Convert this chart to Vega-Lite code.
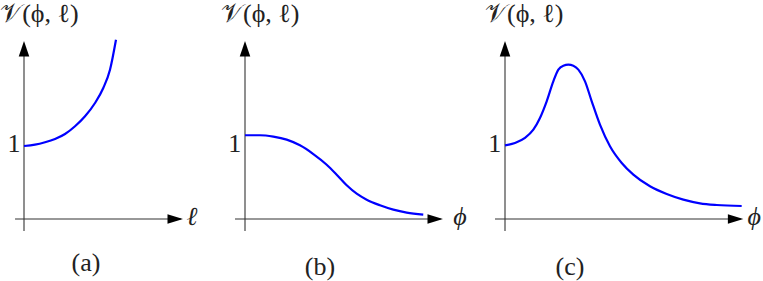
{
  "$schema": "https://vega.github.io/schema/vega-lite/v6.json",
  "background": "white",
  "padding": 0,
  "spacing": 0,
  "bounds": "flush",
  "config": {"view": {"stroke": null}, "text": {"font": "Liberation Serif", "fontSize": 26, "color": "#222222", "align": "center", "baseline": "alphabetic"}},
  "resolve": {"scale": {"x": "independent", "y": "independent"}},
  "datasets": {
    "axes": [
      {"panel": "a", "x": -0.123, "y": 0, "x2": 2.15, "y2": 0},
      {"panel": "a", "x": 0, "y": -0.164, "x2": 0, "y2": 2.4},
      {"panel": "b", "x": -0.137, "y": 0, "x2": 2.68, "y2": 0},
      {"panel": "b", "x": 0, "y": -0.164, "x2": 0, "y2": 2.4},
      {"panel": "c", "x": -0.137, "y": 0, "x2": 3.23, "y2": 0},
      {"panel": "c", "x": 0, "y": -0.164, "x2": 0, "y2": 2.4}
    ],
    "arrows": [
      {"panel": "a", "dir": "right", "x": 2.178, "y": 0},
      {"panel": "a", "dir": "up", "x": 0, "y": 2.438},
      {"panel": "b", "dir": "right", "x": 2.712, "y": 0},
      {"panel": "b", "dir": "up", "x": 0, "y": 2.438},
      {"panel": "c", "dir": "right", "x": 3.265, "y": 0},
      {"panel": "c", "dir": "up", "x": 0, "y": 2.438}
    ],
    "curves": [
      {"panel": "a", "x": 0, "y": 1.0},
      {"panel": "a", "x": 0.151, "y": 1.018},
      {"panel": "a", "x": 0.288, "y": 1.051},
      {"panel": "a", "x": 0.425, "y": 1.096},
      {"panel": "a", "x": 0.562, "y": 1.164},
      {"panel": "a", "x": 0.699, "y": 1.27},
      {"panel": "a", "x": 0.836, "y": 1.407},
      {"panel": "a", "x": 0.973, "y": 1.589},
      {"panel": "a", "x": 1.086, "y": 1.795},
      {"panel": "a", "x": 1.178, "y": 2.045},
      {"panel": "a", "x": 1.26, "y": 2.456},
      {"panel": "b", "x": 0, "y": 1.147},
      {"panel": "b", "x": 0.205, "y": 1.147},
      {"panel": "b", "x": 0.388, "y": 1.128},
      {"panel": "b", "x": 0.571, "y": 1.087},
      {"panel": "b", "x": 0.753, "y": 1.009},
      {"panel": "b", "x": 0.936, "y": 0.89},
      {"panel": "b", "x": 1.119, "y": 0.744},
      {"panel": "b", "x": 1.256, "y": 0.607},
      {"panel": "b", "x": 1.393, "y": 0.462},
      {"panel": "b", "x": 1.53, "y": 0.347},
      {"panel": "b", "x": 1.667, "y": 0.265},
      {"panel": "b", "x": 1.849, "y": 0.188},
      {"panel": "b", "x": 2.032, "y": 0.128},
      {"panel": "b", "x": 2.215, "y": 0.087},
      {"panel": "b", "x": 2.442, "y": 0.059},
      {"panel": "c", "x": 0, "y": 1.009},
      {"panel": "c", "x": 0.137, "y": 1.041},
      {"panel": "c", "x": 0.274, "y": 1.11},
      {"panel": "c", "x": 0.388, "y": 1.223},
      {"panel": "c", "x": 0.479, "y": 1.384},
      {"panel": "c", "x": 0.571, "y": 1.612},
      {"panel": "c", "x": 0.662, "y": 1.886},
      {"panel": "c", "x": 0.731, "y": 2.046},
      {"panel": "c", "x": 0.799, "y": 2.1},
      {"panel": "c", "x": 0.868, "y": 2.114},
      {"panel": "c", "x": 0.936, "y": 2.1},
      {"panel": "c", "x": 1.005, "y": 2.046},
      {"panel": "c", "x": 1.096, "y": 1.886},
      {"panel": "c", "x": 1.188, "y": 1.612},
      {"panel": "c", "x": 1.301, "y": 1.292},
      {"panel": "c", "x": 1.438, "y": 0.996},
      {"panel": "c", "x": 1.599, "y": 0.767},
      {"panel": "c", "x": 1.758, "y": 0.607},
      {"panel": "c", "x": 1.986, "y": 0.448},
      {"panel": "c", "x": 2.215, "y": 0.342},
      {"panel": "c", "x": 2.443, "y": 0.265},
      {"panel": "c", "x": 2.671, "y": 0.215},
      {"panel": "c", "x": 2.9, "y": 0.192},
      {"panel": "c", "x": 3.242, "y": 0.178}
    ],
    "labels": [
      {"panel": "a", "role": "title", "text": "𝒱(ϕ, ℓ)", "x": -0.326, "y": 2.705},
      {"panel": "a", "role": "tick", "text": "1", "x": -0.137, "y": 0.915},
      {"panel": "a", "role": "var", "text": "ℓ", "x": 2.301, "y": -0.082},
      {"panel": "a", "role": "caption", "text": "(a)", "x": 0.849, "y": -0.712},
      {"panel": "b", "role": "title", "text": "𝒱(ϕ, ℓ)", "x": -0.329, "y": 2.705},
      {"panel": "b", "role": "tick", "text": "1", "x": -0.141, "y": 0.915},
      {"panel": "b", "role": "var", "text": "ϕ", "x": 2.945, "y": -0.082},
      {"panel": "b", "role": "caption", "text": "(b)", "x": 1.027, "y": -0.767},
      {"panel": "c", "role": "title", "text": "𝒱(ϕ, ℓ)", "x": -0.274, "y": 2.705},
      {"panel": "c", "role": "tick", "text": "1", "x": -0.141, "y": 0.915},
      {"panel": "c", "role": "var", "text": "ϕ", "x": 3.415, "y": -0.082},
      {"panel": "c", "role": "caption", "text": "(c)", "x": 0.89, "y": -0.767}
    ]
  },
  "hconcat": [
    {
      "width": 210,
      "height": 281,
      "encoding": {
        "x": {"field": "x", "type": "quantitative", "scale": {"domain": [-0.3288, 2.5479], "nice": false, "zero": false}, "axis": null},
        "y": {"field": "y", "type": "quantitative", "scale": {"domain": [-0.8904, 2.9589], "nice": false, "zero": false}, "axis": null}
      },
      "layer": [
        {"data": {"name": "axes"}, "transform": [{"filter": "datum.panel === 'a'"}], "mark": {"type": "rule", "color": "#333333", "strokeWidth": 1.1}, "encoding": {"x2": {"field": "x2"}, "y2": {"field": "y2"}}},
        {"data": {"name": "arrows"}, "transform": [{"filter": "datum.panel === 'a'"}], "mark": {"type": "point", "filled": true, "opacity": 1, "color": "#000000", "size": 240, "strokeWidth": 0}, "encoding": {"shape": {"field": "dir", "type": "nominal", "scale": {"domain": ["right", "up"], "range": ["M0,0L-2,-0.62L-2,0.62Z", "M0,0L-0.68,2L0.68,2Z"]}, "legend": null}}},
        {"data": {"name": "curves"}, "transform": [{"filter": "datum.panel === 'a'"}], "mark": {"type": "line", "color": "#0000ff", "strokeWidth": 2.2, "interpolate": "monotone"}},
        {"data": {"name": "labels"}, "transform": [{"filter": "datum.panel === 'a' && datum.role === 'title'"}], "mark": {"type": "text", "align": "left"}, "encoding": {"text": {"field": "text"}}},
        {"data": {"name": "labels"}, "transform": [{"filter": "datum.panel === 'a' && (datum.role === 'tick' || datum.role === 'caption')"}], "mark": {"type": "text"}, "encoding": {"text": {"field": "text"}}},
        {"data": {"name": "labels"}, "transform": [{"filter": "datum.panel === 'a' && datum.role === 'var'"}], "mark": {"type": "text", "fontStyle": "italic"}, "encoding": {"text": {"field": "text"}}}
      ]
    },
    {
      "width": 260,
      "height": 281,
      "encoding": {
        "x": {"field": "x", "type": "quantitative", "scale": {"domain": [-0.4795, 3.0822], "nice": false, "zero": false}, "axis": null},
        "y": {"field": "y", "type": "quantitative", "scale": {"domain": [-0.8904, 2.9589], "nice": false, "zero": false}, "axis": null}
      },
      "layer": [
        {"data": {"name": "axes"}, "transform": [{"filter": "datum.panel === 'b'"}], "mark": {"type": "rule", "color": "#333333", "strokeWidth": 1.1}, "encoding": {"x2": {"field": "x2"}, "y2": {"field": "y2"}}},
        {"data": {"name": "arrows"}, "transform": [{"filter": "datum.panel === 'b'"}], "mark": {"type": "point", "filled": true, "opacity": 1, "color": "#000000", "size": 240, "strokeWidth": 0}, "encoding": {"shape": {"field": "dir", "type": "nominal", "scale": {"domain": ["right", "up"], "range": ["M0,0L-2,-0.62L-2,0.62Z", "M0,0L-0.68,2L0.68,2Z"]}, "legend": null}}},
        {"data": {"name": "curves"}, "transform": [{"filter": "datum.panel === 'b'"}], "mark": {"type": "line", "color": "#0000ff", "strokeWidth": 2.2, "interpolate": "monotone"}},
        {"data": {"name": "labels"}, "transform": [{"filter": "datum.panel === 'b' && datum.role === 'title'"}], "mark": {"type": "text", "align": "left"}, "encoding": {"text": {"field": "text"}}},
        {"data": {"name": "labels"}, "transform": [{"filter": "datum.panel === 'b' && (datum.role === 'tick' || datum.role === 'caption')"}], "mark": {"type": "text"}, "encoding": {"text": {"field": "text"}}},
        {"data": {"name": "labels"}, "transform": [{"filter": "datum.panel === 'b' && datum.role === 'var'"}], "mark": {"type": "text", "fontStyle": "italic"}, "encoding": {"text": {"field": "text"}}}
      ]
    },
    {
      "width": 293,
      "height": 281,
      "encoding": {
        "x": {"field": "x", "type": "quantitative", "scale": {"domain": [-0.4795, 3.5342], "nice": false, "zero": false}, "axis": null},
        "y": {"field": "y", "type": "quantitative", "scale": {"domain": [-0.8904, 2.9589], "nice": false, "zero": false}, "axis": null}
      },
      "layer": [
        {"data": {"name": "axes"}, "transform": [{"filter": "datum.panel === 'c'"}], "mark": {"type": "rule", "color": "#333333", "strokeWidth": 1.1}, "encoding": {"x2": {"field": "x2"}, "y2": {"field": "y2"}}},
        {"data": {"name": "arrows"}, "transform": [{"filter": "datum.panel === 'c'"}], "mark": {"type": "point", "filled": true, "opacity": 1, "color": "#000000", "size": 240, "strokeWidth": 0}, "encoding": {"shape": {"field": "dir", "type": "nominal", "scale": {"domain": ["right", "up"], "range": ["M0,0L-2,-0.62L-2,0.62Z", "M0,0L-0.68,2L0.68,2Z"]}, "legend": null}}},
        {"data": {"name": "curves"}, "transform": [{"filter": "datum.panel === 'c'"}], "mark": {"type": "line", "color": "#0000ff", "strokeWidth": 2.2, "interpolate": "monotone"}},
        {"data": {"name": "labels"}, "transform": [{"filter": "datum.panel === 'c' && datum.role === 'title'"}], "mark": {"type": "text", "align": "left"}, "encoding": {"text": {"field": "text"}}},
        {"data": {"name": "labels"}, "transform": [{"filter": "datum.panel === 'c' && (datum.role === 'tick' || datum.role === 'caption')"}], "mark": {"type": "text"}, "encoding": {"text": {"field": "text"}}},
        {"data": {"name": "labels"}, "transform": [{"filter": "datum.panel === 'c' && datum.role === 'var'"}], "mark": {"type": "text", "fontStyle": "italic"}, "encoding": {"text": {"field": "text"}}}
      ]
    }
  ]
}
